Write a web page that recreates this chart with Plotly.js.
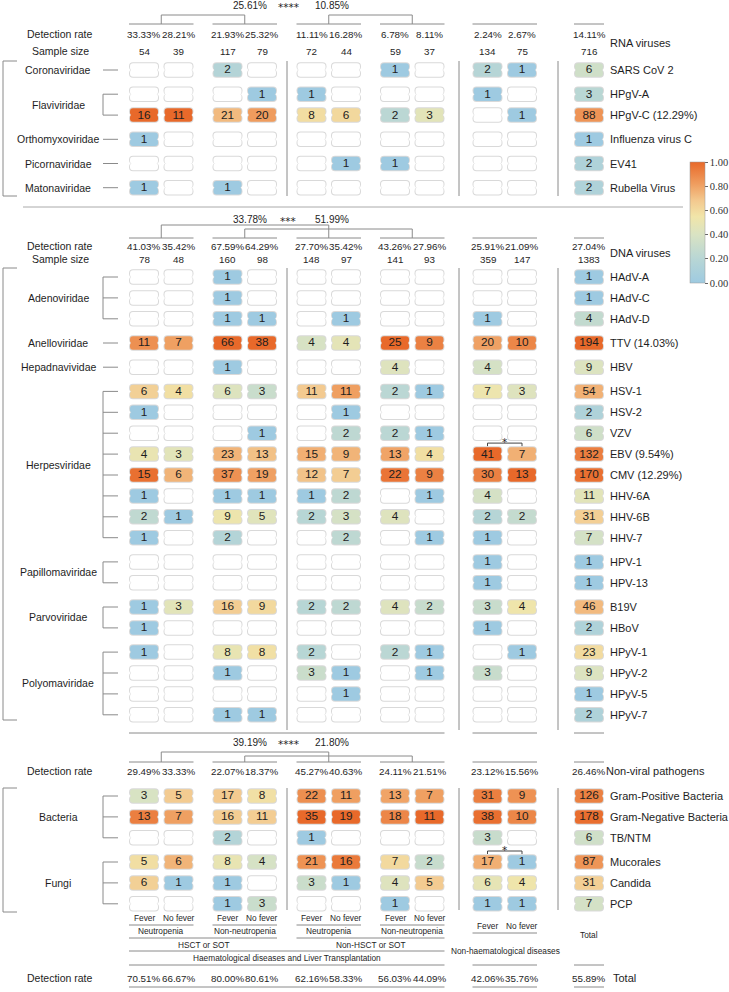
<!DOCTYPE html>
<html>
<head>
<meta charset="utf-8">
<script src="https://cdn.plot.ly/plotly-3.0.1.min.js"></script>
<style>
  html, body { margin: 0; padding: 0; background: #fff; }
  #chart { width: 729px; height: 992px; }
</style>
</head>
<body>
<div id="chart"></div>
<script>
// ---- data ----
// columns: HSCT/SOT neutropenia (fever, no fever), HSCT/SOT non-neutropenia (fever, no fever),
// non-HSCT neutropenia (fever, no fever), non-HSCT non-neutropenia (fever, no fever),
// non-haematological (fever, no fever), then Total

const rnaRates = ["33.33%", "28.21%", "21.93%", "25.32%", "11.11%", "16.28%", "6.78%", "8.11%", "2.24%", "2.67%", "14.11%"];
const rnaSizes = [54, 39, 117, 79, 72, 44, 59, 37, 134, 75, 716];
const rnaCompare = ["25.61%", "****", "10.85%"];
const rnaFamilies = ["Coronaviridae", "Flaviviridae", "Orthomyxoviridae", "Picornaviridae", "Matonaviridae"];
const rnaFamilyRows = [1, 2, 1, 1, 1];
const rnaNames = ["SARS CoV 2", "HPgV-A", "HPgV-C (12.29%)", "Influenza virus C", "EV41", "Rubella Virus"];
const rnaCounts = [
  [0, 0, 2, 0, 0, 0, 1, 0, 2, 1],
  [0, 0, 0, 1, 1, 0, 0, 0, 1, 0],
  [16, 11, 21, 20, 8, 6, 2, 3, 0, 1],
  [1, 0, 0, 0, 0, 0, 0, 0, 0, 0],
  [0, 0, 0, 0, 0, 1, 1, 0, 0, 0],
  [1, 0, 1, 0, 0, 0, 0, 0, 0, 0],
];
const rnaTotals = [6, 3, 88, 1, 2, 2];

const dnaRates = ["41.03%", "35.42%", "67.59%", "64.29%", "27.70%", "35.42%", "43.26%", "27.96%", "25.91%", "21.09%", "27.04%"];
const dnaSizes = [78, 48, 160, 98, 148, 97, 141, 93, 359, 147, 1383];
const dnaCompare = ["33.78%", "***", "51.99%"];
const dnaFamilies = ["Adenoviridae", "Anelloviridae", "Hepadnavividae", "Herpesviridae", "Papillomaviridae", "Parvoviridae", "Polyomaviridae"];
const dnaFamilyRows = [3, 1, 1, 8, 2, 2, 4];
const dnaNames = ["HAdV-A", "HAdV-C", "HAdV-D", "TTV (14.03%)", "HBV", "HSV-1", "HSV-2", "VZV", "EBV (9.54%)",
  "CMV (12.29%)", "HHV-6A", "HHV-6B", "HHV-7", "HPV-1", "HPV-13", "B19V", "HBoV", "HPyV-1", "HPyV-2", "HPyV-5", "HPyV-7"];
const dnaCounts = [
  [0, 0, 1, 0, 0, 0, 0, 0, 0, 0],
  [0, 0, 1, 0, 0, 0, 0, 0, 0, 0],
  [0, 0, 1, 1, 0, 1, 0, 0, 1, 0],
  [11, 7, 66, 38, 4, 4, 25, 9, 20, 10],
  [0, 0, 1, 0, 0, 0, 4, 0, 4, 0],
  [6, 4, 6, 3, 11, 11, 2, 1, 7, 3],
  [1, 0, 0, 0, 0, 1, 0, 0, 0, 0],
  [0, 0, 0, 1, 0, 2, 2, 1, 0, 0],
  [4, 3, 23, 13, 15, 9, 13, 4, 41, 7],
  [15, 6, 37, 19, 12, 7, 22, 9, 30, 13],
  [1, 0, 1, 1, 1, 2, 0, 1, 4, 0],
  [2, 1, 9, 5, 2, 3, 4, 0, 2, 2],
  [1, 0, 2, 0, 0, 2, 0, 1, 1, 0],
  [0, 0, 0, 0, 0, 0, 0, 0, 1, 0],
  [0, 0, 0, 0, 0, 0, 0, 0, 1, 0],
  [1, 3, 16, 9, 2, 2, 4, 2, 3, 4],
  [1, 0, 0, 0, 0, 0, 0, 0, 1, 0],
  [1, 0, 8, 8, 2, 0, 2, 1, 0, 1],
  [0, 0, 1, 0, 3, 1, 0, 1, 3, 0],
  [0, 0, 0, 0, 0, 1, 0, 0, 0, 0],
  [0, 0, 1, 1, 0, 0, 0, 0, 0, 0],
];
const dnaTotals = [1, 1, 4, 194, 9, 54, 2, 6, 132, 170, 11, 31, 7, 1, 1, 46, 2, 23, 9, 1, 2];
const dnaSigRows = ["EBV (9.54%)"];

const nvRates = ["29.49%", "33.33%", "22.07%", "18.37%", "45.27%", "40.63%", "24.11%", "21.51%", "23.12%", "15.56%", "26.46%"];
const nvCompare = ["39.19%", "****", "21.80%"];
const nvFamilies = ["Bacteria", "Fungi"];
const nvFamilyRows = [3, 3];
const nvNames = ["Gram-Positive Bacteria", "Gram-Negative Bacteria", "TB/NTM", "Mucorales", "Candida", "PCP"];
const nvCounts = [
  [3, 5, 17, 8, 22, 11, 13, 7, 31, 9],
  [13, 7, 16, 11, 35, 19, 18, 11, 38, 10],
  [0, 0, 2, 0, 1, 0, 0, 0, 3, 0],
  [5, 6, 8, 4, 21, 16, 7, 2, 17, 1],
  [6, 1, 1, 0, 3, 1, 4, 5, 6, 4],
  [0, 0, 1, 3, 0, 0, 1, 0, 1, 1],
];
const nvTotals = [126, 178, 6, 87, 31, 7];
const nvSigRows = ["Mucorales"];

const totalRates = ["70.51%", "66.67%", "80.00%", "80.61%", "62.16%", "58.33%", "56.03%", "44.09%", "42.06%", "35.76%", "55.89%"];

const feverLabels = ["Fever", "No fever"];
const neutroLabels = ["Neutropenia", "Non-neutropenia", "Neutropenia", "Non-neutropenia"];
const transplantLabels = ["HSCT or SOT", "Non-HSCT or SOT"];

// ---- layout constants ----
const FONT = "Liberation Sans, Arial, sans-serif";
const STAR_FONT = "DejaVu Sans, sans-serif";
const INK = "#1e1e1e";
const LINE = "#8a8a8a";
const COLX = [144, 178.5, 227.5, 262, 311.5, 346, 395, 429.5, 487.5, 522, 589];
const PAIRS = [[0, 1], [2, 3], [4, 5], [6, 7], [8, 9]];
const SEP_X = [287, 459, 558];
const BOX_W = 30, BOX_H = 15.5;
const STEP = 20.9, GAP = 24.2;
const LABEL_X = 609;
const COLORSCALE = [
  [0, "#9ecae1"], [0.2, "#b8d6d5"], [0.4, "#d9e3c3"], [0.55, "#f1e5a9"],
  [0.68, "#f3c98f"], [0.82, "#ef9d5f"], [1, "#e8692a"],
];
// y positions of the bottom category axis
const BOT = { fever: 918, feverLine: 925, neutro: 931, neutroLine: 938, tx: 945, txLine: 951,
  haem: 958, haemLine: 965, rate: 978, rateLine: 987,
  nhFever: 926, nhLine: 933, nh: 951, total: 935 };

const sections = [
  { rates: rnaRates, sizes: rnaSizes, compare: rnaCompare, families: rnaFamilies, famRows: rnaFamilyRows,
    names: rnaNames, counts: rnaCounts, totals: rnaTotals, sig: [], title: "RNA viruses", titleX: LABEL_X,
    headY: 5, bracketY: [15, 15], bracketPairs: [[0, 1], [2, 3]], groupY: 24, rateY: 34, sizeY: 51,
    titleY: 43, firstY: 70, top: 61, bottom: 196, sepBottom: 196 },
  { rates: dnaRates, sizes: dnaSizes, compare: dnaCompare, families: dnaFamilies, famRows: dnaFamilyRows,
    names: dnaNames, counts: dnaCounts, totals: dnaTotals, sig: dnaSigRows, title: "DNA viruses", titleX: LABEL_X,
    headY: 219, bracketY: [225, 229], bracketPairs: [[0, 2], [1, 3]], groupY: 238, rateY: 246, sizeY: 259,
    titleY: 253, firstY: 277, top: 268, bottom: 720, sepBottom: 730 },
  { rates: nvRates, sizes: null, compare: nvCompare, families: nvFamilies, famRows: nvFamilyRows,
    names: nvNames, counts: nvCounts, totals: nvTotals, sig: nvSigRows, title: "Non-viral pathogens", titleX: 605,
    headY: 742, bracketY: [752, 756], bracketPairs: [[0, 2], [1, 3]], groupY: 762, rateY: 771, sizeY: null,
    titleY: 771, firstY: 796, top: 788, bottom: 912, sepBottom: 910 },
];

// colour = log(count) / log(column maximum over the whole table)
const colMax = COLX.map((_, c) => {
  let m = 1;
  sections.forEach((s) => {
    s.counts.forEach((row, r) => { m = Math.max(m, c < 10 ? row[c] : s.totals[r]); });
  });
  return m;
});

function rowPositions(firstY, famRows) {
  const ys = [];
  let y = firstY;
  famRows.forEach((n, fi) => {
    if (fi > 0) y += GAP;
    for (let i = 0; i < n; i++) {
      if (i > 0) y += STEP;
      ys.push(y);
    }
  });
  return ys;
}

const shapes = [];
const annotations = [];
function line(x0, y0, x1, y1, color, width) {
  shapes.push({ type: "line", xref: "x", yref: "y", x0, y0, x1, y1,
    line: { color: color || LINE, width: width || 1 } });
}
function label(x, y, text, size, anchor, family) {
  annotations.push({ x, y, xref: "x", yref: "y", text, showarrow: false,
    xanchor: anchor || "center", yanchor: "middle", borderpad: 0,
    font: { family: family || FONT, size: size, color: INK } });
}
const pairMid = (p) => (COLX[PAIRS[p][0]] + COLX[PAIRS[p][1]]) / 2;
const pairL = (p) => COLX[PAIRS[p][0]] - BOX_W / 2;
const pairR = (p) => COLX[PAIRS[p][1]] + BOX_W / 2;
const totL = COLX[10] - BOX_W / 2, totR = COLX[10] + BOX_W / 2;

const cells = { x: [], y: [], n: [], z: [] };

sections.forEach((s) => {
  const ys = rowPositions(s.firstY, s.famRows);

  // header: comparison text and brackets
  label(250, s.headY, s.compare[0], 10);
  label(288, s.headY + 2, s.compare[1], 10.5, "center", STAR_FONT);
  label(332, s.headY, s.compare[2], 10);
  s.bracketPairs.forEach(([a, b], i) => {
    const by = s.bracketY[i];
    line(pairMid(a), by, pairMid(b), by);
    line(pairMid(a), by, pairMid(a), s.groupY);
    line(pairMid(b), by, pairMid(b), s.groupY);
  });
  PAIRS.forEach((_, p) => line(pairL(p), s.groupY, pairR(p), s.groupY));
  line(totL, s.groupY, totR, s.groupY);

  label(60, s.rateY, "Detection rate", 10.5);
  s.rates.forEach((t, c) => label(COLX[c], s.rateY, t, 9.8));
  if (s.sizes) {
    label(60, s.sizeY, "Sample size", 10.5);
    s.sizes.forEach((t, c) => label(COLX[c], s.sizeY, String(t), 9.8));
  }
  label(s.titleX, s.titleY, s.title, 11, "left");

  // left bracket and family labels
  line(3, s.top, 3, s.bottom);
  line(3, s.top, 17, s.top);
  line(3, s.bottom, 17, s.bottom);
  let r0 = 0;
  s.families.forEach((f, fi) => {
    const n = s.famRows[fi];
    const fy = ys.slice(r0, r0 + n);
    label(58, (fy[0] + fy[n - 1]) / 2, f, 10.5);
    if (n === 1) line(103, fy[0], 118, fy[0]);
    else {
      line(103, fy[0], 103, fy[n - 1]);
      fy.forEach((y) => line(103, y, 118, y));
    }
    r0 += n;
  });

  // column separators
  SEP_X.forEach((x) => line(x, s.top, x, s.sepBottom));

  // cells
  s.counts.forEach((row, r) => {
    row.concat([s.totals[r]]).forEach((v, c) => {
      cells.x.push(COLX[c]);
      cells.y.push(ys[r]);
      cells.n.push(v);
      cells.z.push(v > 0 ? Math.log(v) / Math.log(colMax[c]) : null);
    });
    label(LABEL_X, ys[r], s.names[r], 11, "left");
  });

  // significance marks between the two non-haematological columns
  s.sig.forEach((name) => {
    const y = ys[s.names.indexOf(name)] - 11;
    line(COLX[8], y, COLX[9], y, "#444");
    line(COLX[8], y, COLX[8], y + 3, "#444");
    line(COLX[9], y, COLX[9], y + 3, "#444");
    label((COLX[8] + COLX[9]) / 2, y - 1, "*", 10.5, "center", STAR_FONT);
  });
});

// RNA / DNA separator
line(23, 207, 683, 207, "#aaaaaa");
// close of DNA block
line(pairL(0), 733, pairR(3), 733);
line(pairL(4), 733, pairR(4), 733);
line(totL, 733, totR, 733);

// bottom category axis
[0, 1, 2, 3].forEach((p) => {
  PAIRS[p].forEach((c, i) => label(COLX[c], BOT.fever, feverLabels[i], 8.3));
  line(pairL(p), BOT.feverLine, pairR(p), BOT.feverLine);
  label(pairMid(p), BOT.neutro, neutroLabels[p], 8.3);
});
PAIRS[4].forEach((c, i) => label(COLX[c], BOT.nhFever, feverLabels[i], 8.3));
line(pairL(4), BOT.nhLine, pairR(4), BOT.nhLine);
line(pairL(0), BOT.neutroLine, pairR(1), BOT.neutroLine);
line(pairL(2), BOT.neutroLine, pairR(3), BOT.neutroLine);
label((pairL(0) + pairR(1)) / 2, BOT.tx, transplantLabels[0], 8.3);
label((pairL(2) + pairR(3)) / 2, BOT.tx, transplantLabels[1], 8.3);
line(pairL(0), BOT.txLine, pairR(3), BOT.txLine);
label((pairL(0) + pairR(3)) / 2, BOT.haem, "Haematological diseases and Liver Transplantation", 8.3);
label(pairMid(4) + 1, BOT.nh, "Non-haematological diseases", 8.3);
label(COLX[10], BOT.total, "Total", 8.3);
[[pairL(0), pairR(3)], [pairL(4), pairR(4)], [totL, totR]].forEach(([a, b]) => {
  line(a, BOT.haemLine, b, BOT.haemLine);
  line(a, BOT.rateLine, b, BOT.rateLine);
});
label(60, BOT.rate, "Detection rate", 10.5);
totalRates.forEach((t, c) => label(COLX[c], BOT.rate, t, 9.8));
label(LABEL_X + 3, BOT.rate, "Total", 11, "left");

// ---- boxes: rounded cells drawn as two half-bars (rounded ends) ----
function halfBars(idx, w, h, marker) {
  const xs = idx.map((i) => cells.x[i]);
  const up = {
    type: "bar", x: xs, base: idx.map((i) => cells.y[i] - 0.5), y: idx.map(() => h / 2 + 0.5),
    width: idx.map(() => w), marker: Object.assign({ line: { width: 0 } }, marker),
    hoverinfo: "skip", showlegend: false,
  };
  const downMarker = Object.assign({}, marker, { showscale: false });
  const down = {
    type: "bar", x: xs, base: idx.map((i) => cells.y[i] + 0.5), y: idx.map(() => -(h / 2 + 0.5)),
    width: idx.map(() => w), marker: Object.assign({ line: { width: 0 } }, downMarker),
    hoverinfo: "skip", showlegend: false,
  };
  return [up, down];
}

const all = cells.x.map((_, i) => i);
const filled = all.filter((i) => cells.n[i] > 0);
const empty = all.filter((i) => cells.n[i] === 0);

const traces = [].concat(
  halfBars(all, BOX_W, BOX_H, { color: "#d9d9d9", cornerradius: 4 }),
  halfBars(empty, BOX_W - 2, BOX_H - 2, { color: "#ffffff", cornerradius: 3 }),
  halfBars(filled, BOX_W - 2, BOX_H - 2, {
    color: filled.map((i) => cells.z[i]), colorscale: COLORSCALE, cmin: 0, cmax: 1, cornerradius: 3,
    showscale: true,
    colorbar: {
      x: 690 / 729, xanchor: "left", xpad: 0, y: 1 - 222.5 / 992, yanchor: "middle", ypad: 0,
      len: 121 / 992, lenmode: "fraction", thickness: 15, thicknessmode: "pixels",
      tickvals: [0, 0.2, 0.4, 0.6, 0.8, 1], ticktext: ["0.00", "0.20", "0.40", "0.60", "0.80", "1.00"],
      ticks: "outside", ticklen: 3, tickcolor: "#666", outlinewidth: 0.5, outlinecolor: "#999",
      tickfont: { family: "Liberation Serif, serif", size: 10.5, color: "#333" },
    },
  }),
  [{
    type: "scatter", mode: "text", x: filled.map((i) => cells.x[i]), y: filled.map((i) => cells.y[i] + 0.5),
    text: filled.map((i) => String(cells.n[i])), textposition: "middle center",
    textfont: { family: FONT, size: 11.8, color: INK }, cliponaxis: false, hoverinfo: "skip", showlegend: false,
  }]
);

const layout = {
  width: 729, height: 992,
  margin: { l: 0, r: 0, t: 0, b: 0, autoexpand: false },
  paper_bgcolor: "#ffffff", plot_bgcolor: "#ffffff",
  barmode: "overlay",
  xaxis: { range: [0, 729], visible: false, fixedrange: true },
  yaxis: { range: [992, 0], visible: false, fixedrange: true },
  shapes, annotations, showlegend: false,
  font: { family: FONT, color: INK },
};

Plotly.newPlot("chart", traces, layout, { displayModeBar: false, staticPlot: true });
</script>
</body>
</html>
